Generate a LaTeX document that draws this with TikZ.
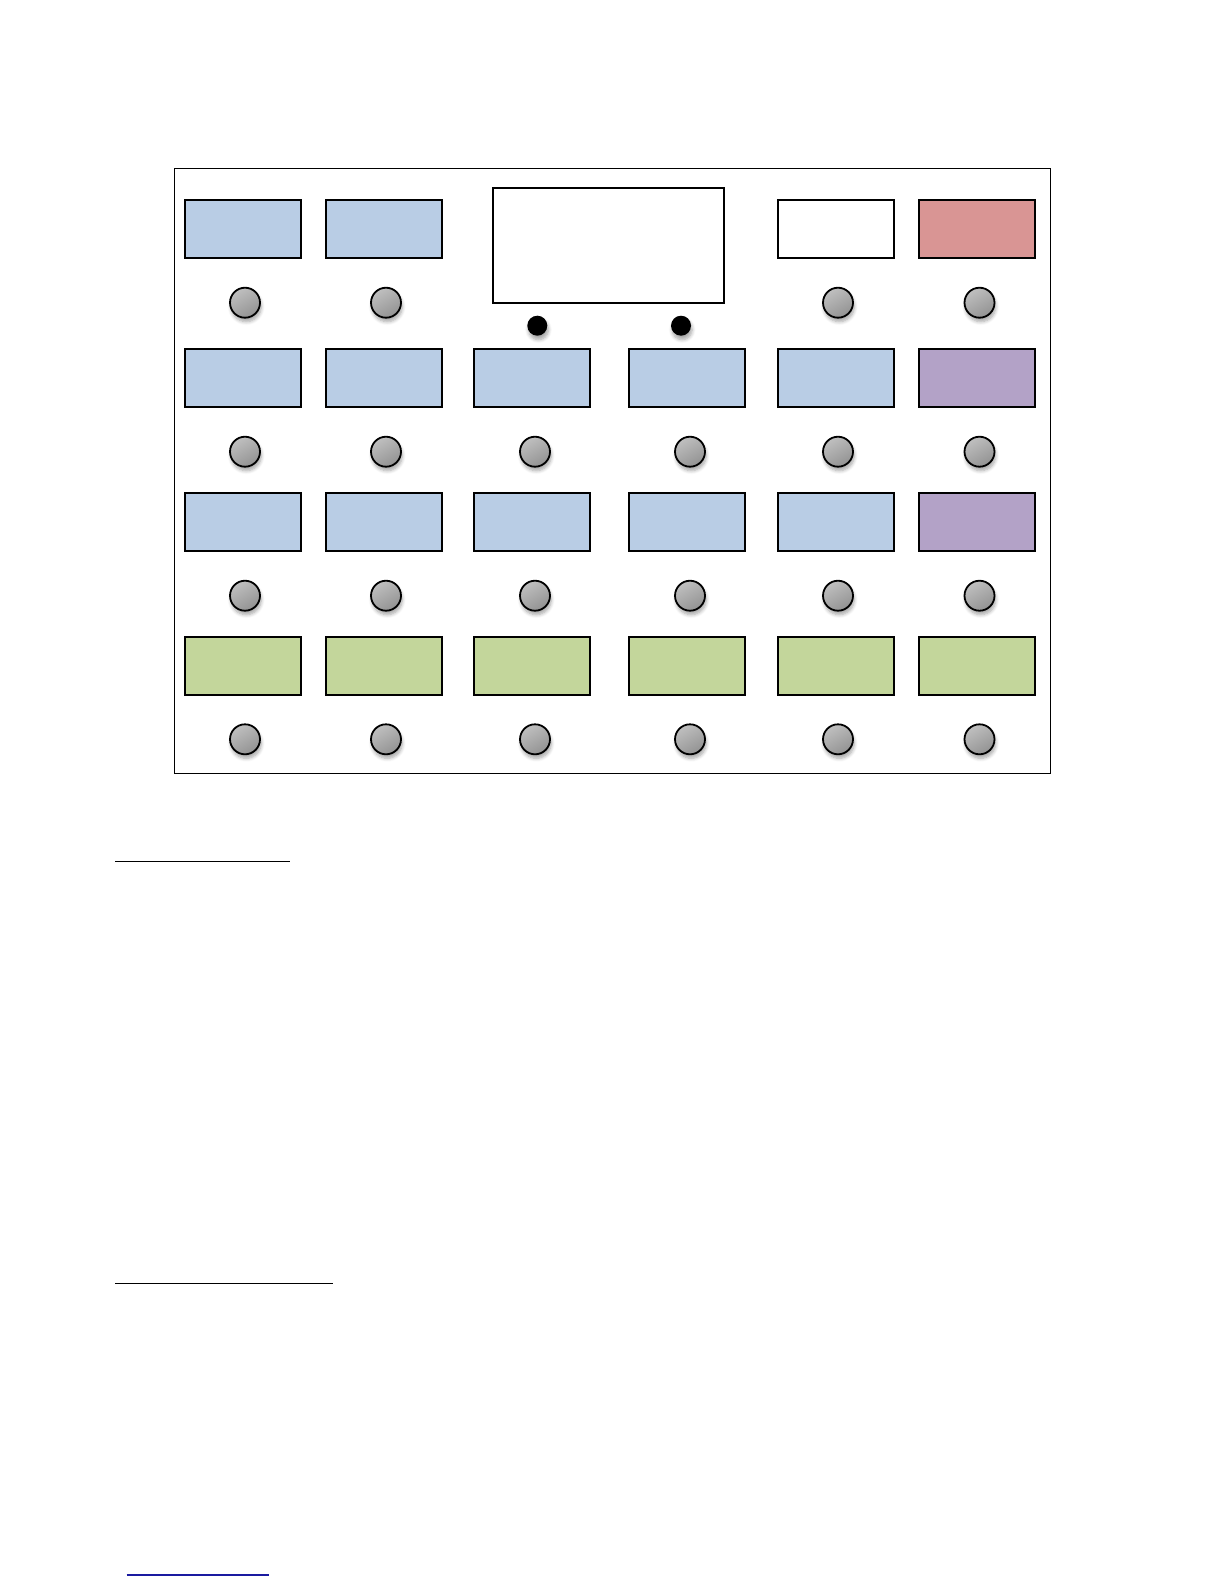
\documentclass[tikz,border=0pt]{standalone}
\usetikzlibrary{shadows.blur}
\definecolor{keyblue}{HTML}{B9CDE5}
\definecolor{keyred}{HTML}{D99594}
\definecolor{keypurple}{HTML}{B3A2C7}
\definecolor{keygreen}{HTML}{C3D69B}
\definecolor{linkblue}{HTML}{1A1AA0}
\tikzset{
  keybox/.style={draw=black, line width=1.0pt, minimum width=58pt, minimum height=28.85pt, inner sep=0pt, outer sep=0pt},
  knob/.style={circle, draw=black, line width=0.9pt, minimum size=15pt, inner sep=0pt,
    top color=gray!50, bottom color=gray!85, shading angle=30,
    blur shadow={shadow xshift=0.6pt, shadow yshift=-2pt, shadow blur steps=6, shadow opacity=35}},
  dot/.style={circle, fill=black, minimum size=10pt, inner sep=0pt,
    blur shadow={shadow xshift=0.6pt, shadow yshift=-2pt, shadow blur steps=6, shadow opacity=35}},
  rule/.style={line width=0.75pt}
}
\begin{document}
\begin{tikzpicture}[x=0.5pt,y=-0.5pt]
\useasboundingbox (0,0) rectangle (1224,1584);
% panel
\node[draw=black, line width=0.5pt, minimum width=438.35pt, minimum height=302.65pt, inner sep=0pt] (panel) at (612.35,470.65) {};
% screen
\node[draw=black, line width=1.0pt, minimum width=115.5pt, minimum height=57.5pt, inner sep=0pt] (screen) at (608.8,245.2) {};
\node[dot] (d1) at (537.3,325.7) {};
\node[dot] (d2) at (681,325.7) {};
% row 1
\node[keybox, fill=keyblue] (k11) at (242.5,228.85) {};
\node[keybox, fill=keyblue] (k12) at (384,228.85) {};
\node[keybox, fill=white] (k15) at (835.5,228.85) {};
\node[keybox, fill=keyred] (k16) at (976.5,228.85) {};
\node[knob] (n11) at (245,302.7) {};
\node[knob] (n12) at (386,302.7) {};
\node[knob] (n15) at (838,302.7) {};
\node[knob] (n16) at (979.5,302.7) {};
% row 2
\node[keybox, fill=keyblue] (k21) at (242.5,377.85) {};
\node[keybox, fill=keyblue] (k22) at (384,377.85) {};
\node[keybox, fill=keyblue] (k23) at (532,377.85) {};
\node[keybox, fill=keyblue] (k24) at (687,377.85) {};
\node[keybox, fill=keyblue] (k25) at (835.5,377.85) {};
\node[keybox, fill=keypurple] (k26) at (976.5,377.85) {};
\node[knob] (n21) at (245,451.7) {};
\node[knob] (n22) at (386,451.7) {};
\node[knob] (n23) at (535,451.7) {};
\node[knob] (n24) at (690,451.7) {};
\node[knob] (n25) at (838,451.7) {};
\node[knob] (n26) at (979.5,451.7) {};
% row 3
\node[keybox, fill=keyblue] (k31) at (242.5,522.15) {};
\node[keybox, fill=keyblue] (k32) at (384,522.15) {};
\node[keybox, fill=keyblue] (k33) at (532,522.15) {};
\node[keybox, fill=keyblue] (k34) at (687,522.15) {};
\node[keybox, fill=keyblue] (k35) at (835.5,522.15) {};
\node[keybox, fill=keypurple] (k36) at (976.5,522.15) {};
\node[knob] (n31) at (245,595.7) {};
\node[knob] (n32) at (386,595.7) {};
\node[knob] (n33) at (535,595.7) {};
\node[knob] (n34) at (690,595.7) {};
\node[knob] (n35) at (838,595.7) {};
\node[knob] (n36) at (979.5,595.7) {};
% row 4
\node[keybox, fill=keygreen] (k41) at (242.5,665.85) {};
\node[keybox, fill=keygreen] (k42) at (384,665.85) {};
\node[keybox, fill=keygreen] (k43) at (532,665.85) {};
\node[keybox, fill=keygreen] (k44) at (687,665.85) {};
\node[keybox, fill=keygreen] (k45) at (835.5,665.85) {};
\node[keybox, fill=keygreen] (k46) at (976.5,665.85) {};
\node[knob] (n41) at (245,739.3) {};
\node[knob] (n42) at (386,739.3) {};
\node[knob] (n43) at (535,739.3) {};
\node[knob] (n44) at (690,739.3) {};
\node[knob] (n45) at (838,739.3) {};
\node[knob] (n46) at (979.5,739.3) {};
% rules below
\coordinate (r1a) at (115,861.7);
\coordinate (r1b) at (290,861.7);
\coordinate (r2a) at (115,1283.3);
\coordinate (r2b) at (332.7,1283.3);
\coordinate (r3a) at (126.7,1575);
\coordinate (r3b) at (269,1575);
\draw[rule] (r1a) -- (r1b);
\draw[rule] (r2a) -- (r2b);
\draw[rule, draw=linkblue] (r3a) -- (r3b);
\end{tikzpicture}
\end{document}
